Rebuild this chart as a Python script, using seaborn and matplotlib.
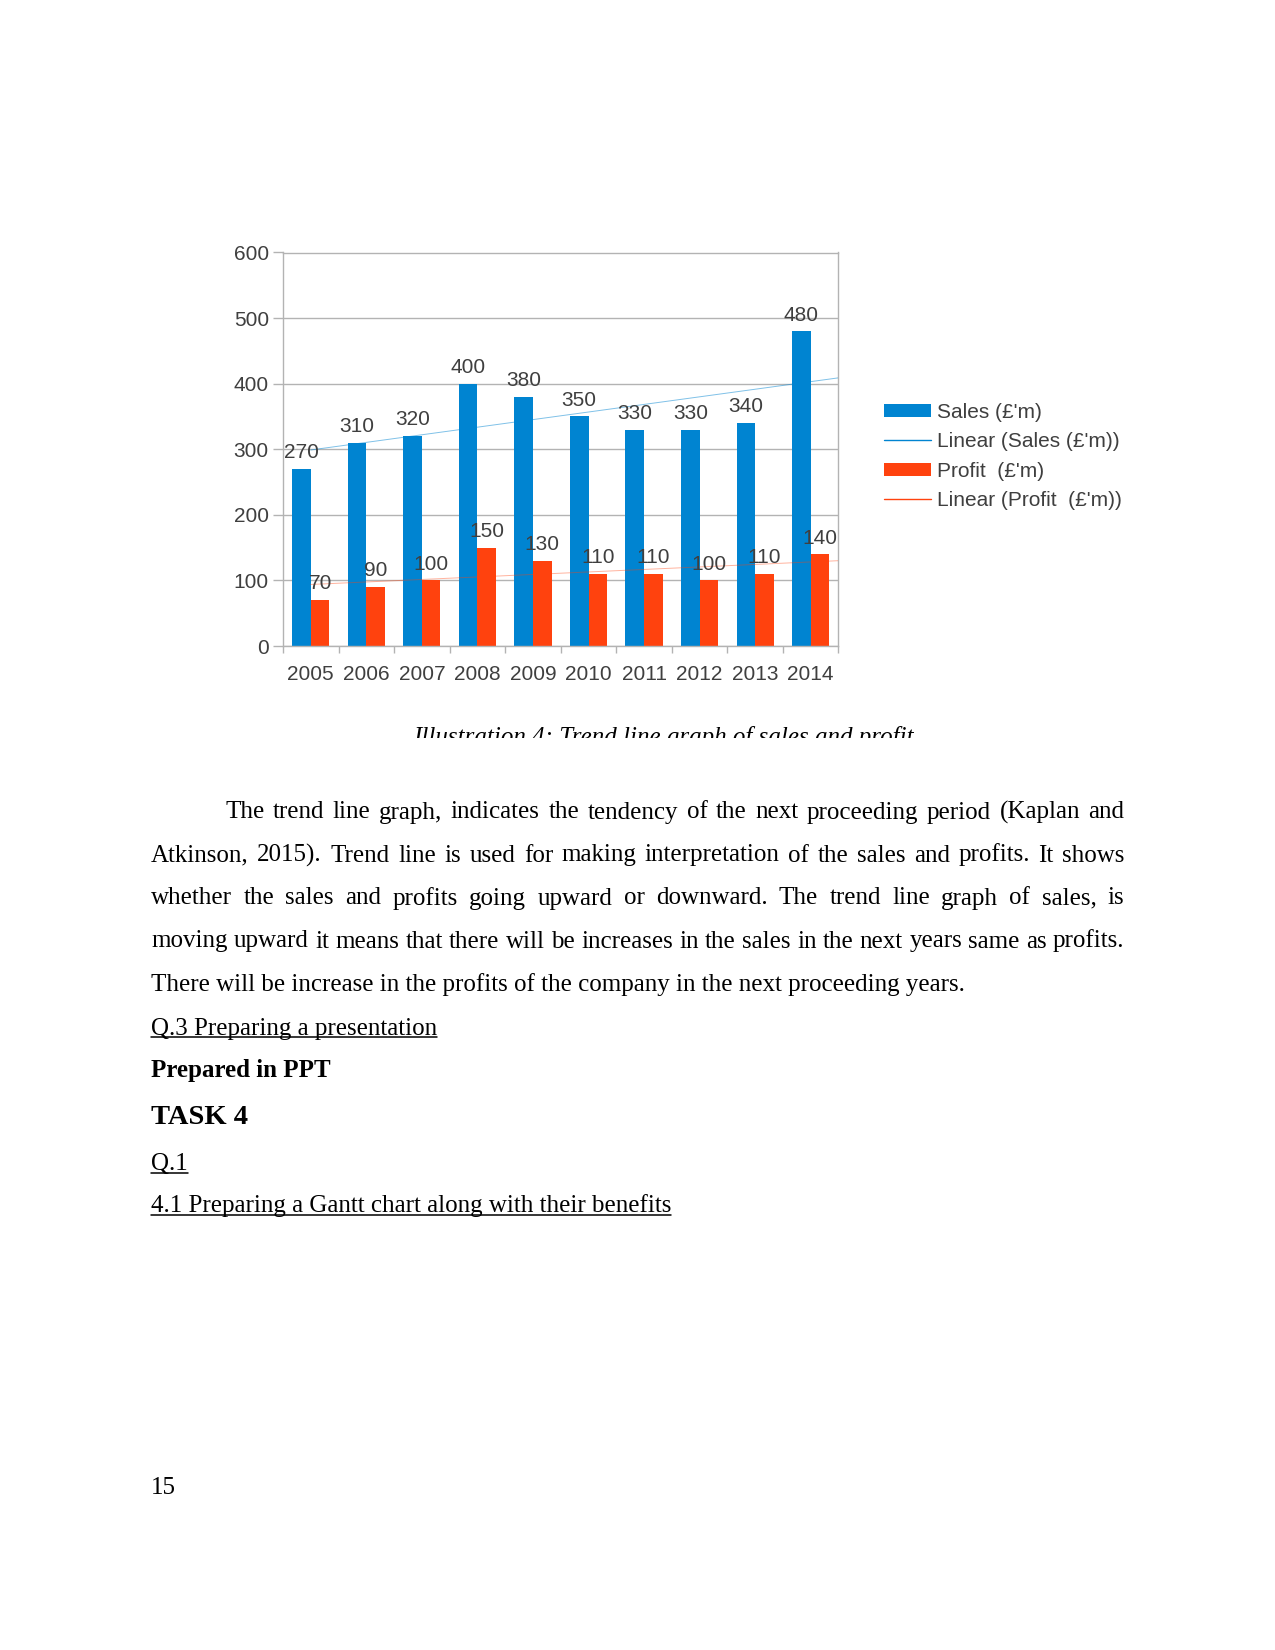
import numpy as np
import pandas as pd
import matplotlib
matplotlib.use("Agg")
import matplotlib.pyplot as plt
import seaborn as sns
from matplotlib.patches import Patch, Rectangle
from matplotlib.lines import Line2D

# ---------------- data ----------------
years = ["2005", "2006", "2007", "2008", "2009", "2010", "2011", "2012", "2013", "2014"]
sales = [270, 310, 320, 400, 380, 350, 330, 330, 340, 480]
profit = [70, 90, 100, 150, 130, 110, 110, 100, 110, 140]
series_names = ["Sales (£'m)", "Profit  (£'m)"]
trend_names = ["Linear (Sales (£'m))", "Linear (Profit  (£'m))"]
yticks = [0, 100, 200, 300, 400, 500, 600]

caption = "Illustration 4: Trend line graph of sales and profit"
body_lines = [
    "The trend line graph, indicates the tendency of the next proceeding period (Kaplan and",
    "Atkinson, 2015). Trend line is used for making interpretation of the sales and profits. It shows",
    "whether the sales and profits going upward or downward. The trend line graph of sales, is",
    "moving upward it means that there will be increases in the sales in the next years same as profits.",
    "There will be increase in the profits of the company in the next proceeding years.",
]
heading_q3 = "Q.3 Preparing a presentation"
heading_ppt = "Prepared in PPT"
heading_task = "TASK 4"
heading_q1 = "Q.1"
heading_41 = "4.1 Preparing a Gantt chart along with their benefits"
page_no = "15"

# ---------------- style ----------------
W, H = 1275, 1650
BLUE = "#0084d1"
RED = "#ff420e"
GRID = "#b3b3b3"
TXT = "#3f3f3f"

sns.set_theme(style="white")
plt.rcParams["font.family"] = ["Liberation Sans", "DejaVu Sans"]

fig = plt.figure(figsize=(W / 100, H / 100), dpi=100)
fig.patch.set_facecolor("white")

def fx(px):
    return px / W

def fy(py):
    return 1 - py / H

ax = fig.add_axes([fx(283), fy(646), (838.5 - 283) / W, (646 - 252.5) / H])

df = pd.DataFrame({
    "year": years * 2,
    "series": [series_names[0]] * len(years) + [series_names[1]] * len(years),
    "value": sales + profit,
})
sns.barplot(data=df, x="year", y="value", hue="series", hue_order=series_names,
            palette=[BLUE, RED], width=0.67, dodge=True, saturation=1,
            errorbar=None, legend=False, linewidth=0, ax=ax, zorder=2)

for cont, vals in zip(ax.containers, [sales, profit]):
    ax.bar_label(cont, labels=[str(v) for v in vals], padding=4.8,
                 fontsize=15, color=TXT, zorder=5)

# linear trend lines
xpos = np.arange(len(years))
xs = np.array([0, len(years) - 0.5])
for vals, col, al in [(sales, BLUE, 0.5), (profit, RED, 0.4)]:
    k, b = np.polyfit(xpos, vals, 1)
    ax.plot(xs, k * xs + b, color=col, lw=0.7, alpha=al, zorder=4)

ax.set_xlim(-0.5, len(years) - 0.5)
ax.set_ylim(0, 600)
ax.set_yticks(yticks)
ax.set_yticklabels([str(t) for t in yticks])
ax.set_xticks(xpos)
ax.set_xticklabels(years)
ax.set_xticks(np.arange(-0.5, len(years), 1), minor=True)
ax.set_xlabel("")
ax.set_ylabel("")
ax.yaxis.grid(True, color=GRID, lw=1, zorder=0)
ax.set_axisbelow(True)
for sp in ax.spines.values():
    sp.set_visible(True)
    sp.set_color(GRID)
    sp.set_linewidth(1)
ax.tick_params(axis="x", which="major", length=0, pad=13.5, labelsize=15, labelcolor=TXT)
ax.tick_params(axis="x", which="minor", length=5, width=1, color=GRID, bottom=True)
ax.tick_params(axis="y", which="major", length=7.2, width=1, color=GRID, pad=3,
               labelsize=15, labelcolor=TXT, left=True)

handles = [Patch(facecolor=BLUE, edgecolor="none"),
           Line2D([], [], color=BLUE, lw=1),
           Patch(facecolor=RED, edgecolor="none"),
           Line2D([], [], color=RED, lw=1)]
labels = [series_names[0], trend_names[0], series_names[1], trend_names[1]]
fig.legend(handles, labels, loc="center left", bbox_to_anchor=(fx(884), fy(456.5)),
           frameon=False, fontsize=15, labelcolor=TXT, handlelength=2.26,
           handleheight=0.58, handletextpad=0.3, labelspacing=0.5,
           borderpad=0, borderaxespad=0)

# ---------------- document text ----------------
renderer = fig.canvas.get_renderer()
SERIF = ["Liberation Serif", "DejaVu Serif"]

def width_of(s, **kw):
    t = fig.text(0, 0, s, **kw)
    w = t.get_window_extent(renderer).width
    t.remove()
    return w

# caption (clipped at the bottom like the reference)
cap_kw = dict(family=SERIF, style="italic")
w18 = width_of(caption, fontsize=18, **cap_kw)
cap_fs = 18 * 500 / w18
cap_base = 728 + 0.66 * cap_fs * 100 / 72
fig.text(fx(413), fy(cap_base), caption, fontsize=cap_fs, color="black",
         ha="left", va="baseline", **cap_kw)
fig.add_artist(Rectangle((fx(380), fy(775)), fx(600), (775 - 738) / H,
                         transform=fig.transFigure, facecolor="white",
                         edgecolor="none", zorder=20))

BODY_FS = 18
body_kw = dict(family=SERIF, fontsize=BODY_FS, color="black")
right_edge = 1124.5
baselines = [818.5, 861.5, 904.5, 947.5, 990.5]
starts = [225, 151, 151, 151, 151]
for i, (line, yb, x0) in enumerate(zip(body_lines, baselines, starts)):
    words = line.split(" ")
    if i == len(body_lines) - 1:
        fig.text(fx(x0), fy(yb), line, ha="left", va="baseline", **body_kw)
        continue
    widths = [width_of(wd, **body_kw) for wd in words]
    gap = (right_edge - x0 - sum(widths)) / (len(words) - 1)
    x = x0
    for wd, wdt in zip(words, widths):
        fig.text(fx(x), fy(yb), wd, ha="left", va="baseline", **body_kw)
        x += wdt + gap

def underlined(s, x0, yb, **kw):
    fig.text(fx(x0), fy(yb), s, ha="left", va="baseline", **kw)
    w = width_of(s, **kw)
    fig.add_artist(Line2D([fx(x0), fx(x0 + w)], [fy(yb + 2.8), fy(yb + 2.8)],
                          transform=fig.transFigure, color="black", lw=1.1))

underlined(heading_q3, 151, 1034.5, **body_kw)
fig.text(fx(151), fy(1077.5), heading_ppt, ha="left", va="baseline",
         family=SERIF, fontsize=BODY_FS, fontweight="bold", color="black")
fig.text(fx(151), fy(1123.5), heading_task, ha="left", va="baseline",
         family=SERIF, fontsize=20.5, fontweight="bold", color="black")
underlined(heading_q1, 151, 1170, **body_kw)
underlined(heading_41, 151, 1212, **body_kw)
fig.text(fx(151), fy(1494), page_no, ha="left", va="baseline", **body_kw)

fig.savefig("out.png", dpi=100, facecolor="white")
